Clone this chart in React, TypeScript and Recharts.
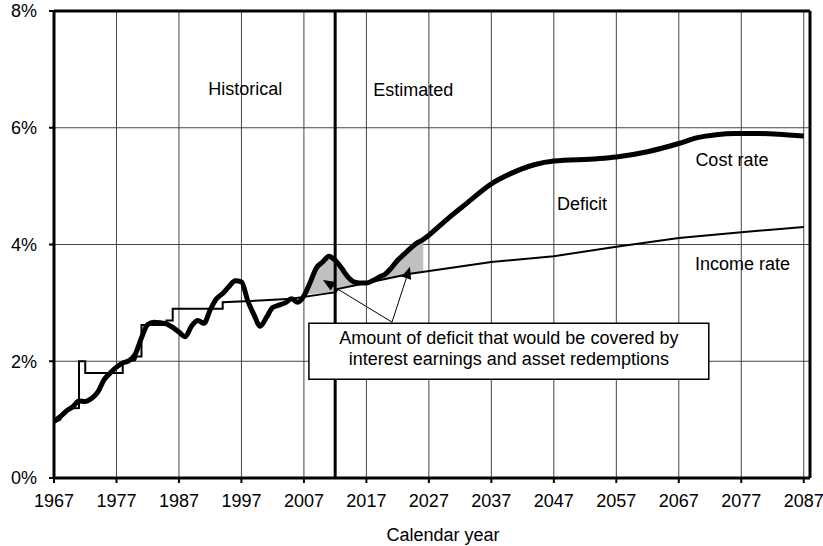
import React from 'react';
import {
  ComposedChart,
  Line,
  Area,
  XAxis,
  YAxis,
  CartesianGrid,
  ReferenceLine,
  ReferenceArea,
  ReferenceDot,
} from 'recharts';

// ---- data ----
const yearTicks = [1967, 1977, 1987, 1997, 2007, 2017, 2027, 2037, 2047, 2057, 2067, 2077, 2087];
const minorYearTicks = [1972, 1982, 1992, 2002, 2012, 2022, 2032, 2042, 2052, 2062, 2072, 2082];
const rateTicks = [0, 2, 4, 6, 8];

const costYears = [
  1967, 1968, 1969, 1970, 1971, 1972, 1973, 1974, 1975, 1976, 1977, 1978, 1979, 1980, 1981, 1982,
  1983, 1984, 1985, 1986, 1987, 1988, 1989, 1990, 1991, 1992, 1993, 1994, 1995, 1996, 1997, 1998,
  1999, 2000, 2001, 2002, 2003, 2004, 2005, 2006, 2007, 2008, 2009, 2010, 2011, 2012, 2013, 2014,
  2015, 2016, 2017, 2018, 2019, 2020, 2021, 2022, 2023, 2024, 2025, 2026, 2027, 2030, 2033, 2037,
  2040, 2044, 2047, 2054, 2057, 2062, 2067, 2070, 2073, 2076, 2080, 2084, 2087,
];
const costRate = [
  0.97, 1.05, 1.15, 1.22, 1.32, 1.31, 1.36, 1.47, 1.68, 1.8, 1.9, 1.97, 2.01, 2.12, 2.4, 2.63,
  2.67, 2.66, 2.64, 2.58, 2.5, 2.42, 2.6, 2.7, 2.65, 2.88, 3.07, 3.16, 3.28, 3.38, 3.36, 3.04,
  2.8, 2.6, 2.75, 2.92, 2.96, 3.0, 3.07, 3.01, 3.12, 3.35, 3.6, 3.7, 3.8, 3.73, 3.6, 3.45,
  3.36, 3.34, 3.34, 3.38, 3.44, 3.49, 3.6, 3.73, 3.83, 3.93, 4.02, 4.08, 4.16, 4.44, 4.7, 5.04,
  5.21, 5.37, 5.43, 5.47, 5.5, 5.59, 5.73, 5.83, 5.88, 5.9, 5.9, 5.88, 5.86,
];

const incomeYears = [
  1967, 1968, 1968.3, 1969, 1969.2, 1971, 1971, 1972, 1972, 1978, 1978, 1980, 1980.2, 1981, 1981,
  1985, 1985, 1986, 1986, 1994, 1994, 2000, 2005, 2010, 2012, 2012.5, 2017, 2024, 2037, 2047, 2057,
  2067, 2077, 2087,
];
const incomeRate = [
  0.95, 1.0, 1.06, 1.12, 1.19, 1.2, 2.0, 2.0, 1.8, 1.8, 1.98, 2.02, 2.08, 2.08, 2.62,
  2.62, 2.7, 2.7, 2.9, 2.9, 3.01, 3.04, 3.07, 3.15, 3.18, 3.24, 3.34, 3.5, 3.7, 3.8, 3.96,
  4.11, 4.21, 4.3,
];

const shadeYears = [
  2007.2, 2008, 2009, 2010, 2011, 2012, 2013, 2014, 2015, 2016, 2017, 2018, 2019, 2020, 2021,
  2022, 2023, 2024, 2025, 2026.1,
];
const shadeLow = [
  3.14, 3.15, 3.16, 3.17, 3.17, 3.18, 3.26, 3.28, 3.31, 3.33, 3.34, 3.36, 3.38, 3.4, 3.42,
  3.44, 3.46, 3.49, 3.51, 3.53,
];
const shadeHigh = [
  3.14, 3.35, 3.6, 3.7, 3.8, 3.73, 3.6, 3.45, 3.36, 3.34, 3.34, 3.38, 3.44, 3.49, 3.6,
  3.73, 3.83, 3.93, 4.02, 4.08,
];

const costData = costYears.map((year, i) => ({ year, value: costRate[i] }));
const incomeData = incomeYears.map((year, i) => ({ year, value: incomeRate[i] }));
const shadeData = shadeYears.map((year, i) => ({ year, range: [shadeLow[i], shadeHigh[i]] }));

const boxLines = [
  'Amount of deficit that would be covered by',
  'interest earnings and asset redemptions',
];

const FONT = 18;

const Arrow = (props: any) => {
  const { x1, y1, x2, y2 } = props;
  const a = Math.atan2(y2 - y1, x2 - x1);
  const len = 12;
  const half = 5;
  const bx = x2 - len * Math.cos(a);
  const by = y2 - len * Math.sin(a);
  const p1 = `${bx + half * Math.sin(a)},${by - half * Math.cos(a)}`;
  const p2 = `${bx - half * Math.sin(a)},${by + half * Math.cos(a)}`;
  return (
    <g>
      <line x1={x1} y1={y1} x2={bx} y2={by} stroke="#000" strokeWidth={1} />
      <polygon points={`${x2},${y2} ${p1} ${p2}`} fill="#000" />
    </g>
  );
};

const BoxText = (props: any) => {
  const { viewBox } = props;
  if (!viewBox) return null;
  const cx = viewBox.x + viewBox.width / 2;
  const cy = viewBox.y + viewBox.height / 2;
  return (
    <text textAnchor="middle" fontSize={FONT} fill="#000">
      <tspan x={cx} y={cy - 7.5}>{boxLines[0]}</tspan>
      <tspan x={cx} y={cy + 13.7}>{boxLines[1]}</tspan>
    </text>
  );
};

const textLabel = (value: string) => ({ value, position: 'center' as const, fill: '#000', fontSize: FONT });

export default function App() {
  return (
    <div
      style={{
        position: 'absolute',
        left: 0,
        top: 0,
        width: 823,
        height: 546,
        background: '#fff',
        fontFamily: "'Liberation Sans', Arial, sans-serif",
      }}
    >
      <ComposedChart width={823} height={546} margin={{ top: 11, right: 13, left: 0, bottom: 0 }}>
        <CartesianGrid stroke="#444" strokeWidth={1} />
        <XAxis
          dataKey="year"
          type="number"
          domain={[1967, 2088]}
          ticks={yearTicks}
          allowDataOverflow
          height={68}
          tickSize={5}
          tickMargin={11}
          tick={{ fill: '#000', fontSize: FONT }}
          tickLine={{ stroke: '#000', strokeWidth: 2 }}
          axisLine={{ stroke: '#000', strokeWidth: 3 }}
          label={{ value: 'Calendar year', position: 'insideBottom', offset: 5, dx: 11, fill: '#000', fontSize: FONT }}
        />
        <XAxis
          xAxisId="minor"
          dataKey="year"
          type="number"
          domain={[1967, 2088]}
          ticks={minorYearTicks}
          allowDataOverflow
          mirror
          height={0}
          tickSize={4}
          tick={false}
          tickLine={{ stroke: '#000', strokeWidth: 2 }}
          axisLine={false}
        />
        <YAxis
          type="number"
          domain={[0, 8]}
          ticks={rateTicks}
          width={54}
          tickSize={5}
          tickMargin={12}
          tickFormatter={(v: number) => `${v}%`}
          tick={{ fill: '#000', fontSize: FONT }}
          tickLine={{ stroke: '#000', strokeWidth: 2 }}
          axisLine={{ stroke: '#000', strokeWidth: 3 }}
        />

        <Area
          data={shadeData}
          dataKey="range"
          type="monotone"
          fill="#c0c0c0"
          fillOpacity={1}
          stroke="none"
          isAnimationActive={false}
        />

        <ReferenceLine y={8} stroke="#000" strokeWidth={3} />
        <ReferenceLine x={2088} stroke="#000" strokeWidth={3} />
        <ReferenceLine segment={[{ x: 2012, y: 8 }, { x: 2012, y: 2.65 }]} stroke="#000" strokeWidth={3} />
        <ReferenceLine segment={[{ x: 2012, y: 1.69 }, { x: 2012, y: 0 }]} stroke="#000" strokeWidth={3} />

        <ReferenceArea
          x1={2007.8}
          x2={2071.8}
          y1={1.69}
          y2={2.65}
          fill="#fff"
          fillOpacity={1}
          stroke="#000"
          strokeWidth={1.5}
          label={<BoxText />}
        />

        <Line
          data={incomeData}
          dataKey="value"
          type="linear"
          stroke="#000"
          strokeWidth={2}
          dot={false}
          isAnimationActive={false}
        />
        <Line
          data={costData}
          dataKey="value"
          type="monotone"
          stroke="#000"
          strokeWidth={5}
          dot={false}
          isAnimationActive={false}
        />

        <ReferenceLine segment={[{ x: 2021.1, y: 2.67 }, { x: 2010.05, y: 3.39 }]} shape={Arrow} />
        <ReferenceLine segment={[{ x: 2021.1, y: 2.67 }, { x: 2023.98, y: 3.62 }]} shape={Arrow} />

        <ReferenceDot x={1997.6} y={6.67} r={0} fill="none" stroke="none" label={textLabel('Historical')} />
        <ReferenceDot x={2024.5} y={6.65} r={0} fill="none" stroke="none" label={textLabel('Estimated')} />
        <ReferenceDot x={2051.5} y={4.7} r={0} fill="none" stroke="none" label={textLabel('Deficit')} />
        <ReferenceDot x={2075.5} y={5.46} r={0} fill="none" stroke="none" label={textLabel('Cost rate')} />
        <ReferenceDot x={2077.2} y={3.68} r={0} fill="none" stroke="none" label={textLabel('Income rate')} />
      </ComposedChart>
    </div>
  );
}
